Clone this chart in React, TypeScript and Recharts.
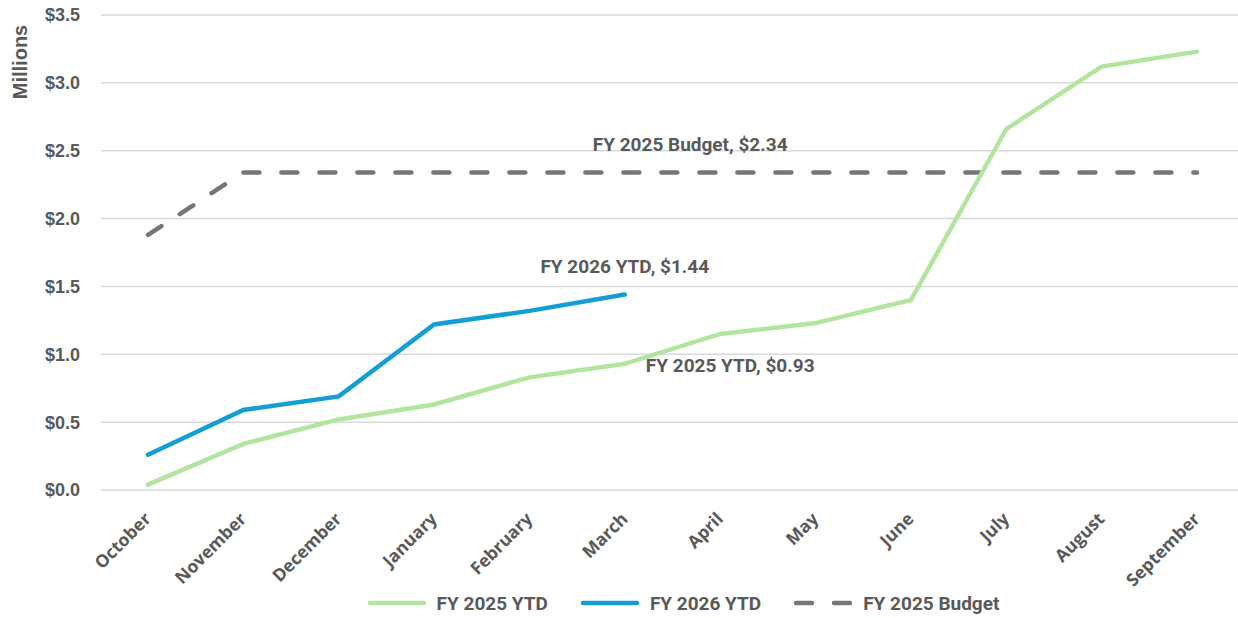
import React from "react";
import { CartesianGrid, Legend, Line, LineChart, XAxis, YAxis } from "recharts";

const months = [
  "October", "November", "December", "January", "February", "March",
  "April", "May", "June", "July", "August", "September",
];
const fy2025Ytd = [0.04, 0.34, 0.52, 0.63, 0.83, 0.93, 1.15, 1.23, 1.4, 2.66, 3.12, 3.23];
const fy2026Ytd = [0.26, 0.59, 0.69, 1.22, 1.32, 1.44];
const fy2025Budget = [1.88, 2.34, 2.34, 2.34, 2.34, 2.34, 2.34, 2.34, 2.34, 2.34, 2.34, 2.34];
const yTicks = [0, 0.5, 1, 1.5, 2, 2.5, 3, 3.5];

const data = months.map((m, i) => ({
  month: m,
  fy25: fy2025Ytd[i],
  fy26: i < fy2026Ytd.length ? fy2026Ytd[i] : null,
  budget: fy2025Budget[i],
}));

const GREEN = "#b3e5a1";
const BLUE = "#159ed6";
const GREY = "#767676";
const TEXT = "#595959";
const NARROW = "'Liberation Sans Narrow', 'Roboto', sans-serif";
const TICK_FONT = "'Open Sans', sans-serif";
const ARIAL = "'Liberation Sans', Arial, sans-serif";

const MonthTick = (props: any) => {
  const { x, y, payload } = props;
  return (
    <text
      x={x + 4}
      y={y + 22}
      transform={`rotate(-45 ${x + 4} ${y + 22})`}
      textAnchor="end"
      fill={TEXT}
      fontFamily={TICK_FONT}
      fontWeight={700}
      fontSize={17.5}
    >
      {payload.value}
    </text>
  );
};

const labelStyle = {
  fill: TEXT,
  fontFamily: NARROW,
  fontWeight: 700,
  fontSize: 19,
};

const fy26Label = (p: any) =>
  p.index === 5 ? (
    <text x={p.x} y={p.y - 22} textAnchor="middle" style={labelStyle}>
      FY 2026 YTD, ${p.value.toFixed(2)}
    </text>
  ) : (
    <g />
  );

const fy25Label = (p: any) =>
  p.index === 5 ? (
    <text x={p.x + 21} y={p.y + 8} textAnchor="start" style={labelStyle}>
      FY 2025 YTD, ${p.value.toFixed(2)}
    </text>
  ) : (
    <g />
  );

const budgetLabel = (p: any) =>
  p.index === 6 ? (
    <text x={p.x - 30} y={p.y - 21} textAnchor="middle" style={labelStyle}>
      FY 2025 Budget, ${p.value.toFixed(2)}
    </text>
  ) : (
    <g />
  );

const millionsLabel = () => (
  <text
    x={27}
    y={62}
    transform="rotate(-90 27 62)"
    textAnchor="middle"
    fill={TEXT}
    fontFamily={ARIAL}
    fontWeight={700}
    fontSize={20}
  >
    Millions
  </text>
);

const LegendContent = () => {
  const items = [
    { name: "FY 2025 YTD", color: GREEN, dash: false },
    { name: "FY 2026 YTD", color: BLUE, dash: false },
    { name: "FY 2025 Budget", color: GREY, dash: true },
  ];
  return (
    <div
      style={{
        height: 40,
        boxSizing: "border-box",
        paddingTop: 10,
        display: "flex",
        justifyContent: "center",
        alignItems: "center",
        paddingLeft: 160,
      }}
    >
      {items.map((it) => (
        <div key={it.name} style={{ display: "flex", alignItems: "center", marginRight: 32 }}>
          <svg width={60} height={10} style={{ marginRight: 10 }}>
            <line
              x1={3}
              y1={5}
              x2={57}
              y2={5}
              stroke={it.color}
              strokeWidth={4.5}
              strokeLinecap="round"
              strokeDasharray={it.dash ? "16 22" : undefined}
            />
          </svg>
          <span style={{ color: TEXT, fontFamily: NARROW, fontWeight: 700, fontSize: 19 }}>{it.name}</span>
        </div>
      ))}
    </div>
  );
};

export default function App() {
  return (
    <div style={{ position: "absolute", left: 0, top: 0, background: "#fff" }}>
      <LineChart width={1238} height={618} data={data} margin={{ top: 15, right: 0, left: 0, bottom: 0 }}>
        <CartesianGrid vertical={false} stroke="#d9d9d9" strokeWidth={1.5} />
        <XAxis
          dataKey="month"
          axisLine={false}
          tickLine={false}
          interval={0}
          height={88}
          padding={{ left: 47, right: 41 }}
          tick={<MonthTick />}
        />
        <YAxis
          width={101}
          domain={[0, 3.5]}
          ticks={yTicks}
          axisLine={false}
          tickLine={false}
          tickSize={0}
          tickMargin={21}
          tickFormatter={(v: number) => `$${v.toFixed(1)}`}
          tick={{ fill: TEXT, fontFamily: ARIAL, fontWeight: 700, fontSize: 18 }}
          label={millionsLabel}
        />
        <Legend verticalAlign="bottom" height={40} content={<LegendContent />} />
        <Line
          dataKey="budget"
          stroke={GREY}
          strokeWidth={4.5}
          strokeDasharray="16 22"
          strokeLinecap="round"
          dot={false}
          activeDot={false}
          isAnimationActive={false}
          label={budgetLabel}
        />
        <Line
          dataKey="fy25"
          stroke={GREEN}
          strokeWidth={4.5}
          strokeLinecap="round"
          dot={false}
          activeDot={false}
          isAnimationActive={false}
          label={fy25Label}
        />
        <Line
          dataKey="fy26"
          stroke={BLUE}
          strokeWidth={4.5}
          strokeLinecap="round"
          dot={false}
          activeDot={false}
          isAnimationActive={false}
          label={fy26Label}
        />
      </LineChart>
    </div>
  );
}
